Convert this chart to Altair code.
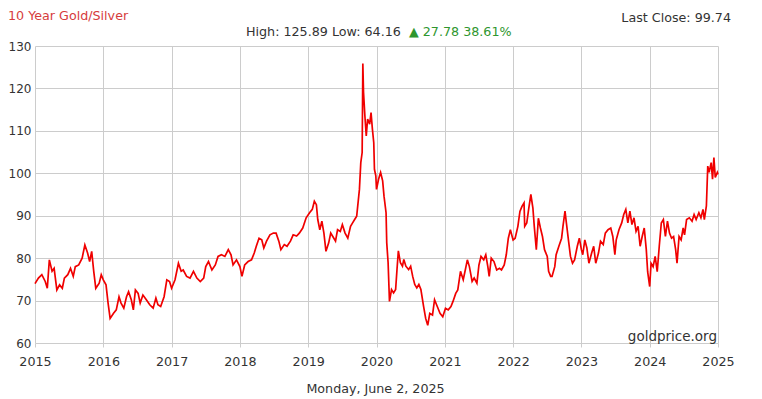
import altair as alt
import pandas as pd

years = [
    2015.00, 2015.05, 2015.10, 2015.15, 2015.18, 2015.21, 2015.25, 2015.28, 2015.32, 2015.36,
    2015.40, 2015.43, 2015.48, 2015.52, 2015.56, 2015.59, 2015.64, 2015.69, 2015.73, 2015.77,
    2015.80, 2015.83, 2015.86, 2015.89, 2015.94, 2015.97, 2016.00, 2016.04, 2016.07, 2016.10,
    2016.15, 2016.19, 2016.23, 2016.26, 2016.30, 2016.34, 2016.37, 2016.41, 2016.44, 2016.47,
    2016.51, 2016.54, 2016.58, 2016.63, 2016.68, 2016.73, 2016.77, 2016.80, 2016.84, 2016.89,
    2016.93, 2016.97, 2017.00, 2017.05, 2017.10, 2017.14, 2017.17, 2017.22, 2017.27, 2017.32,
    2017.37, 2017.42, 2017.47, 2017.50, 2017.54, 2017.59, 2017.64, 2017.68, 2017.73, 2017.78,
    2017.83, 2017.87, 2017.90, 2017.95, 2018.00, 2018.03, 2018.07, 2018.12, 2018.17, 2018.21,
    2018.24, 2018.28, 2018.32, 2018.35, 2018.39, 2018.44, 2018.49, 2018.53, 2018.57, 2018.60,
    2018.65, 2018.69, 2018.74, 2018.78, 2018.83, 2018.87, 2018.92, 2018.97, 2019.02, 2019.06,
    2019.09, 2019.12, 2019.14, 2019.17, 2019.20, 2019.23, 2019.26, 2019.30, 2019.33, 2019.36,
    2019.40, 2019.43, 2019.47, 2019.50, 2019.54, 2019.58, 2019.62, 2019.65, 2019.68, 2019.71,
    2019.75, 2019.77, 2019.79, 2019.80, 2019.81, 2019.83, 2019.85, 2019.87, 2019.90, 2019.92,
    2019.94, 2019.96, 2019.97, 2019.99, 2020.00, 2020.03, 2020.06, 2020.09, 2020.11, 2020.14,
    2020.15, 2020.17, 2020.19, 2020.22, 2020.25, 2020.28, 2020.30, 2020.32, 2020.35, 2020.38,
    2020.40, 2020.43, 2020.47, 2020.50, 2020.53, 2020.56, 2020.59, 2020.62, 2020.65, 2020.69,
    2020.72, 2020.75, 2020.78, 2020.82, 2020.85, 2020.89, 2020.93, 2020.97, 2021.01, 2021.05,
    2021.09, 2021.12, 2021.16, 2021.19, 2021.23, 2021.27, 2021.30, 2021.33, 2021.36, 2021.40,
    2021.43, 2021.47, 2021.50, 2021.53, 2021.57, 2021.60, 2021.63, 2021.65, 2021.68, 2021.72,
    2021.76, 2021.80, 2021.83, 2021.87, 2021.90, 2021.93, 2021.96, 2022.00, 2022.03, 2022.07,
    2022.10, 2022.13, 2022.16, 2022.17, 2022.20, 2022.23, 2022.26, 2022.29, 2022.31, 2022.34,
    2022.37, 2022.40, 2022.43, 2022.46, 2022.50, 2022.52, 2022.55, 2022.57, 2022.61, 2022.63,
    2022.67, 2022.71, 2022.73, 2022.76, 2022.78, 2022.81, 2022.84, 2022.87, 2022.90, 2022.94,
    2022.97, 2023.00, 2023.02, 2023.05, 2023.08, 2023.11, 2023.15, 2023.18, 2023.21, 2023.25,
    2023.28, 2023.32, 2023.35, 2023.39, 2023.43, 2023.46, 2023.49, 2023.51, 2023.55, 2023.59,
    2023.62, 2023.65, 2023.68, 2023.71, 2023.74, 2023.77, 2023.80, 2023.83, 2023.86, 2023.89,
    2023.92, 2023.95, 2023.97, 2024.00, 2024.02, 2024.05, 2024.08, 2024.11, 2024.14, 2024.17,
    2024.20, 2024.23, 2024.26, 2024.29, 2024.32, 2024.35, 2024.38, 2024.40, 2024.43, 2024.46,
    2024.49, 2024.51, 2024.54, 2024.58, 2024.62, 2024.65, 2024.68, 2024.72, 2024.75, 2024.78,
    2024.80, 2024.83, 2024.85, 2024.87, 2024.90, 2024.92, 2024.94, 2024.96, 2024.99, 2025.00,
]

ratio = [
    74.0, 75.3, 76.1, 74.5, 72.9, 79.6, 76.9, 77.6, 72.5, 73.7,
    72.9, 75.3, 76.1, 77.6, 75.7, 78.0, 78.4, 80.0, 83.1, 81.2,
    79.2, 81.6, 76.9, 72.9, 74.1, 76.1, 74.9, 73.7, 69.4, 65.8,
    67.0, 67.8, 70.9, 69.4, 68.2, 70.9, 72.1, 70.2, 67.8, 72.5,
    71.7, 69.4, 71.3, 70.2, 69.0, 68.2, 70.6, 69.0, 68.6, 70.9,
    74.9, 74.5, 72.9, 74.9, 78.8, 76.9, 77.2, 75.7, 75.3, 76.9,
    75.3, 74.5, 75.3, 78.0, 79.2, 77.2, 78.4, 80.4, 80.8, 80.4,
    82.0, 80.8, 78.4, 79.6, 78.0, 75.7, 78.4, 79.2, 79.6, 81.2,
    82.8, 84.7, 84.3, 82.4, 84.0, 85.5, 85.9, 85.9, 84.0, 82.0,
    83.2, 82.8, 84.0, 85.5, 85.2, 85.9, 87.1, 89.5, 90.7, 91.5,
    93.4, 92.6, 89.1, 86.7, 88.7, 85.9, 81.6, 83.6, 85.9, 85.1,
    84.0, 86.7, 86.3, 87.9, 85.9, 84.7, 87.5, 88.3, 89.1, 89.9,
    96.2, 102.5, 104.9, 125.89, 119.1, 113.5, 108.8, 112.8, 111.6, 114.3,
    110.4, 107.2, 100.9, 99.4, 96.2, 98.6, 100.2, 98.2, 94.6, 90.7,
    83.6, 78.9, 69.8, 72.6, 71.8, 72.6, 77.3, 81.7, 78.9, 78.1,
    79.7, 78.1, 77.3, 78.1, 75.7, 73.8, 73.0, 73.8, 72.6, 68.6,
    65.8, 64.16, 67.0, 66.6, 70.2, 68.6, 67.0, 66.2, 68.2, 67.8,
    68.6, 69.8, 71.7, 72.5, 76.9, 74.9, 77.2, 79.6, 78.0, 74.5,
    75.3, 74.1, 78.4, 80.4, 79.6, 80.8, 78.0, 75.7, 80.0, 79.2,
    77.2, 77.6, 77.2, 78.4, 80.8, 84.7, 86.7, 84.3, 84.7, 87.5,
    91.0, 92.2, 93.0, 87.5, 88.3, 91.8, 95.0, 91.8, 87.5, 82.0,
    89.4, 87.1, 85.1, 82.0, 80.4, 76.9, 75.7, 75.7, 78.0, 80.8,
    82.8, 84.7, 87.5, 91.1, 88.3, 84.3, 80.4, 78.8, 79.6, 82.8,
    84.7, 82.0, 80.8, 84.3, 82.4, 78.8, 81.2, 82.8, 78.8, 81.2,
    84.0, 83.2, 85.9, 86.7, 87.1, 85.1, 80.8, 84.3, 86.7, 88.3,
    90.3, 91.5, 88.3, 91.1, 87.9, 89.5, 86.3, 87.5, 82.8, 85.1,
    87.1, 82.0, 76.8, 73.3, 78.8, 78.0, 80.4, 76.8, 82.8, 88.3,
    89.1, 85.1, 88.7, 85.9, 84.7, 85.1, 82.0, 78.8, 85.1, 84.3,
    87.1, 85.5, 89.1, 89.5, 88.7, 90.3, 89.1, 90.7, 89.5, 91.5,
    89.1, 92.3, 101.7, 100.2, 102.5, 98.6, 103.7, 99.0, 100.2, 99.74,
]

year_ticks = list(range(2015, 2026))
value_ticks = [60, 70, 80, 90, 100, 110, 120, 130]

title_text = "10 Year Gold/Silver"
stats_text = "High: 125.89 Low: 64.16"
change_text = "\u25b2 27.78 38.61%"
last_text = "Last Close: 99.74"
brand_text = "goldprice.org"
date_text = "Monday, June 2, 2025"

FONT = "DejaVu Sans"
W, H = 683, 297

df = pd.DataFrame({"year": years, "ratio": ratio})

line = alt.Chart(df).mark_line(color="#f00000", strokeWidth=1.7).encode(
    x=alt.X(
        "year:Q",
        scale=alt.Scale(domain=[2015, 2025], nice=False, zero=False),
        axis=alt.Axis(
            values=year_ticks, format="d", title=None, grid=True,
            gridColor="#cccccc", tickColor="#cccccc", tickSize=4,
            domain=False, labelFont=FONT, labelFontSize=12.7,
            labelColor="#333333", labelPadding=8, labelFlush=False,
            labelOverlap=False,
        ),
    ),
    y=alt.Y(
        "ratio:Q",
        scale=alt.Scale(domain=[60, 130], nice=False, zero=False),
        axis=alt.Axis(
            values=value_ticks, title=None, grid=True, gridColor="#cccccc",
            ticks=False, domain=False, labelFont=FONT, labelFontSize=12,
            labelColor="#333333", labelPadding=4, labelFlush=False,
            labelOverlap=False,
        ),
    ),
)


def label(txt, x, y, color="#333333", align="left", size=12.7):
    return alt.Chart(pd.DataFrame({"t": [txt]})).mark_text(
        font=FONT, fontSize=size, color=color, align=align, baseline="middle"
    ).encode(x=alt.value(x), y=alt.value(y), text="t:N")


chart = alt.layer(
    line,
    label(title_text, -27, -30, color="#d63c3c"),
    label(stats_text, 211, -14),
    label(change_text, 374, -14, color="#2e962e"),
    label(last_text, 696, -28, align="right"),
    label(brand_text, 682, 291, align="right", size=13.5),
    label(date_text, 340.5, 343, align="center"),
).properties(
    width=W, height=H,
    padding={"left": 27, "top": 38, "right": 28, "bottom": 56},
    autosize=alt.AutoSizeParams(type="none"),
).configure_view(strokeWidth=0)

chart.save("out.html", embed_options={"renderer": "svg", "actions": False})
